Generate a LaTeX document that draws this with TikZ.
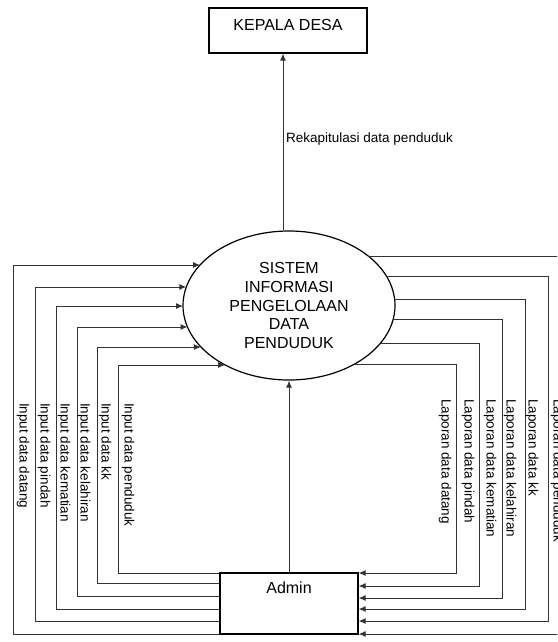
\documentclass[tikz,border=0pt]{standalone}
\usepackage{fontspec}
\setmainfont{Liberation Sans}
\usetikzlibrary{shapes.geometric,arrows.meta,calc}
\tikzset{
	flow/.style={draw=black!80, line width=1pt, -{Latex[length=7pt,width=6pt]}},
	lbl/.style={font=\fontsize{13.5}{15}\selectfont, inner sep=0pt, rotate=-90, anchor=west},
	big/.style={font=\fontsize{16}{18.75}\selectfont}
}
\begin{document}
\begin{tikzpicture}[x=1pt,y=-1pt]
		\useasboundingbox (0,0) rectangle (557,642);
		\clip (0,0) rectangle (557,642);
		\node[big,draw,line width=1.2pt,minimum width=158pt,text height=11.5pt,text depth=10.9pt,inner ysep=11.3pt] (kades) at (288,30.5) {KEPALA DESA};
		\node[big,draw,ellipse,line width=1.2pt,minimum width=212pt,minimum height=149pt,inner sep=0pt,align=center] (sys) at (289,305.5) {SISTEM\\INFORMASI\\PENGELOLAAN\\DATA\\PENDUDUK};
		\node[big,draw,line width=1.2pt,minimum width=138pt,text height=11.5pt,text depth=31pt,inner ysep=9.3pt] (admin) at (289,603.5) {Admin};
		\draw[flow] (sys.north -| 283,0) -- (kades.south -| 283,0);
		\node[font=\fontsize{13.5}{15}\selectfont,anchor=west,inner sep=0pt] (rekap) at (286,139) {Rekapitulasi data penduduk};
		\draw[flow] (admin.north) -- (sys.south);
		\foreach \i/\xv/\ytop/\ybot/\lx/\txt in {1/13/265/634/23/Input data datang,2/35/287/621/44/Input data pindah,3/56/306/609/64/Input data kematian,4/77/327/596/84/Input data kelahiran,5/97/347/583/105/Input data kk,6/118/365/573/128/Input data penduduk}{
			\draw[flow] (admin.west |- 0,\ybot) -| (\xv,\ytop) -- ($(sys.center)+({-106*sqrt(1-((\ytop-305.5)/74.5)^2)},{\ytop-305.5})$);
			\node[lbl] (in\i) at (\lx,403) {\txt};
		}
		\foreach \i/\xv/\yout/\yin/\lx/\txt in {1/456/364/573/445/Laporan data datang,2/479/343/586/468/Laporan data pindah,3/502/319/598/490/Laporan data kematian,4/525/299/609/510/Laporan data kelahiran,5/548/276/621/532/Laporan data kk,6/569/256/634/557/Laporan data penduduk}{
			\draw[flow] ($(sys.center)+({106*sqrt(1-((\yout-305.5)/74.5)^2)},{\yout-305.5})$) -| (\xv,\yin) -- (admin.east |- 0,\yin);
			\node[lbl] (out\i) at (\lx,399) {\txt};
		}
	\end{tikzpicture}
\end{document}
